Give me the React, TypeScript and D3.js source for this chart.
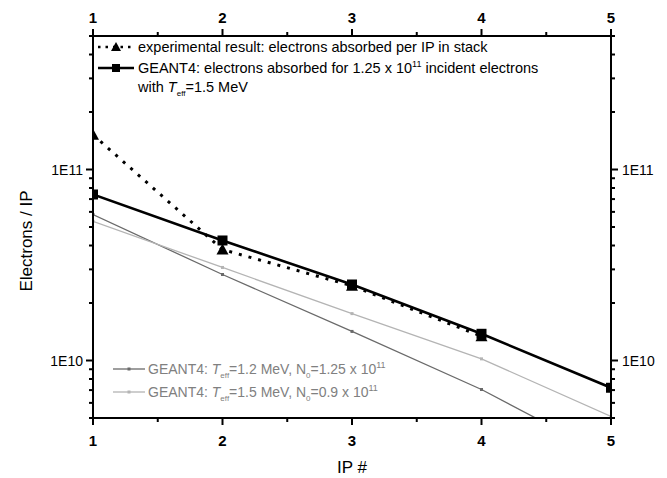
import React from "react";
import * as d3 from "d3";

const ipNumbers = [1, 2, 3, 4, 5];
const experimental = [1.52e11, 3.81e10, 2.46e10, 1.34e10];
const geant15 = [7.4e10, 4.25e10, 2.5e10, 1.38e10, 7.2e9];
const geant12N125 = [5.81e10, 2.82e10, 1.42e10, 7.05e9, 3.1e9];
const geant15N09 = [5.35e10, 3.07e10, 1.76e10, 1.02e10, 5.1e9];
const yMajorTicks = [1e10, 1e11];
const yTickLabels = ["1E10", "1E11"];

const W = 667, H = 478;
const L = 93, R = 611, T = 36, B = 418;
const FONT = "Liberation Sans, Arial, sans-serif";

export default function App() {
  const x = d3.scaleLinear().domain([1, 5]).range([L, R]);
  const y = d3.scaleLog().domain([5e9, 5e11]).range([B, T]);
  const line = d3
    .line<number>()
    .x((_, i) => x(ipNumbers[i]))
    .y((d) => y(d));

  const minorY: number[] = [];
  for (let e = 9; e <= 11; e++) {
    for (let m = 2; m <= 9; m++) {
      const v = m * Math.pow(10, e);
      if (v >= 5e9 && v <= 5e11) minorY.push(v);
    }
  }
  const minorX = [1.5, 2.5, 3.5, 4.5];
  const dark = "#6a6a6a";
  const light = "#b4b4b4";

  return (
    <svg width={W} height={H} style={{ position: "absolute", left: 0, top: 0, background: "#fff" }} fontFamily={FONT}>
      <defs>
        <clipPath id="plot">
          <rect x={L} y={T} width={R - L} height={B - T} />
        </clipPath>
      </defs>
      <rect x={0} y={0} width={W} height={H} fill="#fff" />

      <g clipPath="url(#plot)">
        <path d={line(geant12N125) || ""} fill="none" stroke={dark} strokeWidth={1.3} />
        {geant12N125.map((v, i) => (
          <rect key={"d" + i} x={x(ipNumbers[i]) - 1.5} y={y(v) - 1.5} width={3} height={3} fill={dark} />
        ))}
        <path d={line(geant15N09) || ""} fill="none" stroke={light} strokeWidth={1.3} />
        {geant15N09.map((v, i) => (
          <rect key={"l" + i} x={x(ipNumbers[i]) - 1.5} y={y(v) - 1.5} width={3} height={3} fill={light} />
        ))}
        <path d={line(experimental) || ""} fill="none" stroke="#000" strokeWidth={3} strokeDasharray="3,7" />
        <path d={line(geant15) || ""} fill="none" stroke="#000" strokeWidth={2.6} />
        {geant15.map((v, i) => (
          <rect key={"s" + i} x={x(ipNumbers[i]) - 5} y={y(v) - 5} width={10} height={10} fill="#000" />
        ))}
        {experimental.map((v, i) => {
          const cx = x(ipNumbers[i]);
          const cy = y(v);
          return <path key={"t" + i} d={`M${cx},${cy - 6}L${cx + 6},${cy + 5}L${cx - 6},${cy + 5}Z`} fill="#000" />;
        })}
      </g>

      {/* axes frame */}
      <rect x={L} y={T} width={R - L} height={B - T} fill="none" stroke="#000" strokeWidth={2} />

      {/* x ticks */}
      {ipNumbers.map((v) => (
        <g key={"xt" + v}>
          <line x1={x(v)} x2={x(v)} y1={B} y2={B + 7} stroke="#000" strokeWidth={2} />
          <line x1={x(v)} x2={x(v)} y1={T} y2={T - 7} stroke="#000" strokeWidth={2} />
          <text x={x(v)} y={B + 28} textAnchor="middle" fontSize={15} fontWeight="bold">{v}</text>
          <text x={x(v)} y={T - 13} textAnchor="middle" fontSize={15} fontWeight="bold">{v}</text>
        </g>
      ))}
      {minorX.map((v) => (
        <g key={"xm" + v}>
          <line x1={x(v)} x2={x(v)} y1={B} y2={B + 4} stroke="#000" strokeWidth={2} />
          <line x1={x(v)} x2={x(v)} y1={T} y2={T - 4} stroke="#000" strokeWidth={2} />
        </g>
      ))}

      {/* y ticks */}
      {yMajorTicks.map((v, i) => (
        <g key={"yt" + v}>
          <line x1={L} x2={L - 7} y1={y(v)} y2={y(v)} stroke="#000" strokeWidth={2} />
          <line x1={R} x2={R + 7} y1={y(v)} y2={y(v)} stroke="#000" strokeWidth={2} />
          <text x={L - 10} y={y(v) + 5} textAnchor="end" fontSize={14}>{yTickLabels[i]}</text>
          <text x={R + 11} y={y(v) + 5} textAnchor="start" fontSize={14}>{yTickLabels[i]}</text>
        </g>
      ))}
      {minorY.map((v) => (
        <g key={"ym" + v}>
          <line x1={L} x2={L - 4} y1={y(v)} y2={y(v)} stroke="#000" strokeWidth={2} />
          <line x1={R} x2={R + 4} y1={y(v)} y2={y(v)} stroke="#000" strokeWidth={2} />
        </g>
      ))}

      {/* axis titles */}
      <text x={(L + R) / 2} y={473} textAnchor="middle" fontSize={17}>IP #</text>
      <text transform={`translate(32,241) rotate(-90)`} textAnchor="middle" fontSize={17}>Electrons / IP</text>

      {/* top legend */}
      <g>
        <line x1={98} x2={134} y1={47} y2={47} stroke="#000" strokeWidth={2.5} strokeDasharray="2.5,5" />
        <path d="M116,42L121,51L111,51Z" fill="#000" />
        <text x={138} y={52} fontSize={14.5}>experimental result: electrons absorbed per IP in stack</text>
        <line x1={98} x2={134} y1={68} y2={68} stroke="#000" strokeWidth={2.5} />
        <rect x={112} y={64} width={8} height={8} fill="#000" />
        <text x={138} y={73} fontSize={14.5}>
          GEANT4: electrons absorbed for 1.25 x 10
          <tspan dy={-6} fontSize={9}>11</tspan>
          <tspan dy={6}> incident electrons</tspan>
        </text>
        <text x={138} y={92} fontSize={14.5}>
          with <tspan fontStyle="italic">T</tspan>
          <tspan dy={4} fontSize={8}>eff</tspan>
          <tspan dy={-4}>=1.5 MeV</tspan>
        </text>
      </g>

      {/* bottom legend */}
      <g fill="#808080">
        <line x1={113} x2={145} y1={369} y2={369} stroke={dark} strokeWidth={1.3} />
        <rect x={127.5} y={367.5} width={3} height={3} fill={dark} />
        <text x={148} y={374} fontSize={14}>
          GEANT4: <tspan fontStyle="italic">T</tspan>
          <tspan dy={4} fontSize={8}>eff</tspan>
          <tspan dy={-4}>=1.2 MeV, N</tspan>
          <tspan dy={4} fontSize={8}>0</tspan>
          <tspan dy={-4}>=1.25 x 10</tspan>
          <tspan dy={-6} fontSize={9}>11</tspan>
        </text>
        <line x1={113} x2={145} y1={392} y2={392} stroke={light} strokeWidth={1.3} />
        <rect x={127.5} y={390.5} width={3} height={3} fill={light} />
        <text x={148} y={397} fontSize={14}>
          GEANT4: <tspan fontStyle="italic">T</tspan>
          <tspan dy={4} fontSize={8}>eff</tspan>
          <tspan dy={-4}>=1.5 MeV, N</tspan>
          <tspan dy={4} fontSize={8}>0</tspan>
          <tspan dy={-4}>=0.9 x 10</tspan>
          <tspan dy={-6} fontSize={9}>11</tspan>
        </text>
      </g>
    </svg>
  );
}
